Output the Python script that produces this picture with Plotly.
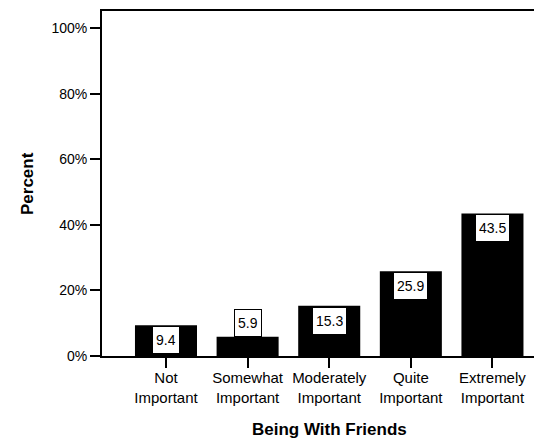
import plotly.graph_objects as go

categories = ["Not<br>Important", "Somewhat<br>Important", "Moderately<br>Important",
              "Quite<br>Important", "Extremely<br>Important"]
percent = [9.4, 5.9, 15.3, 25.9, 43.5]
y_ticks = [0, 20, 40, 60, 80, 100]
y_tick_labels = ["0%", "20%", "40%", "60%", "80%", "100%"]

font = "Liberation Sans, Arial, Helvetica, sans-serif"
xs = list(range(len(categories)))

fig = go.Figure(go.Bar(
    x=xs, y=percent, width=0.76,
    marker=dict(color="black", line=dict(width=0)),
    hoverinfo="skip",
))

# value labels in white boxes, inside the bar top (or above if the bar is short)
for x, v in zip(xs, percent):
    inside = v >= 8
    fig.add_annotation(
        x=x, y=v, xref="x", yref="y", text=f"{v:.1f}", showarrow=False,
        yanchor="top" if inside else "bottom", yshift=-1 if inside else 0,
        font=dict(family=font, size=14, color="black"), height=20,
        bgcolor="white", bordercolor="black", borderwidth=1, borderpad=3,
    )

# axis titles
fig.add_annotation(
    x=2, y=0, xref="x", yref="paper", yshift=-62, yanchor="top",
    text="<b>Being With Friends</b>", showarrow=False,
    font=dict(family=font, size=17, color="black"),
)
fig.add_annotation(
    x=0, y=0.5, xref="paper", yref="paper", xshift=-86, textangle=-90,
    text="<b>Percent</b>", showarrow=False,
    font=dict(family=font, size=17, color="black"),
)

# page body has an 8px margin, so the figure is sized/placed to compensate
fig.update_layout(
    width=534, height=431,
    margin=dict(l=94, r=0, t=3, b=83),
    plot_bgcolor="white", paper_bgcolor="white",
    showlegend=False,
    font=dict(family=font, size=14, color="black"),
    xaxis=dict(
        range=[-0.784, 4.607], tickvals=xs, ticktext=categories,
        showline=True, linecolor="black", linewidth=2, mirror=True,
        ticks="outside", ticklen=10, tickwidth=2, tickcolor="black",
        showgrid=False, zeroline=False, automargin=False,
        tickfont=dict(size=15), ticklabelstandoff=-3,
    ),
    yaxis=dict(
        range=[0, 105.3], tickvals=y_ticks, ticktext=y_tick_labels,
        showline=True, linecolor="black", linewidth=2,
        ticks="outside", ticklen=10, tickwidth=2, tickcolor="black",
        showgrid=False, zeroline=False, automargin=False,
        tickfont=dict(size=14),
    ),
)

fig.write_html("out.html")
